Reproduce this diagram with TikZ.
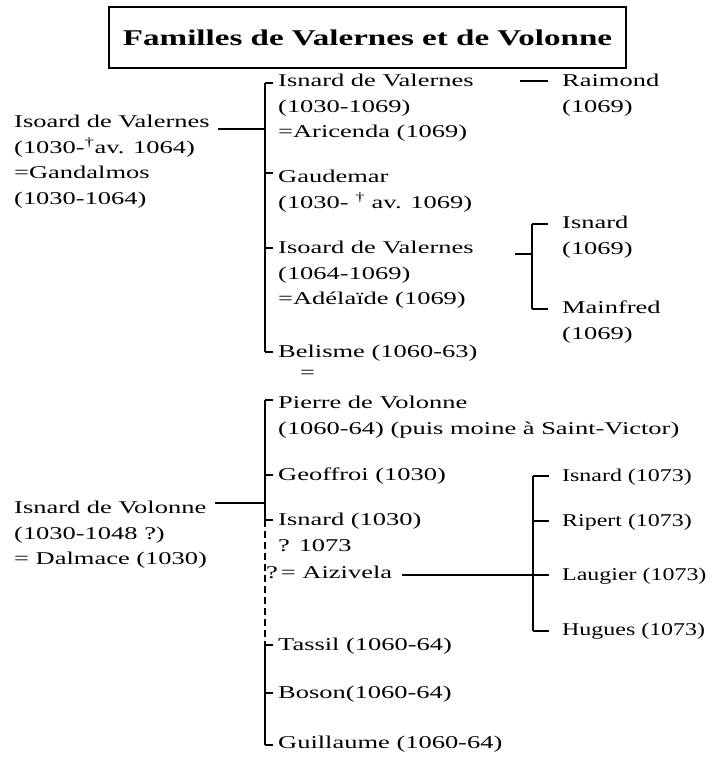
\documentclass[tikz,border=0pt]{standalone}
\usepackage{fontspec}
\setmainfont[FakeStretch=1.47]{Liberation Serif}
\newfontfamily\narrowserif[FakeStretch=1.33]{Liberation Serif}
\begin{document}
\begin{tikzpicture}[x=1pt,y=-1pt,
  lbl/.style={anchor=north west,inner sep=0pt,align=left,font=\fontsize{18}{25.5}\selectfont},
  nlbl/.style={lbl,font=\fontsize{18}{25.5}\selectfont\narrowserif},
  conn/.style={line width=1.9pt},
  dconn/.style={line width=1.9pt,dash pattern=on 7pt off 4pt}]
\useasboundingbox (0,0) rectangle (716,766);
\fill[white] (0,0) rectangle (716,766);
% title
\node[draw,line width=2pt,minimum width=517pt,minimum height=61pt,inner sep=0pt,
  font=\fontsize{22.5}{28}\selectfont\bfseries] (title) at (367.5,37.5) {Familles de Valernes et de Volonne};
% upper family
\node[lbl] (isoardA) at (14,115) {Isoard de Valernes\\(1030-\textsuperscript{†}av. 1064)\\=Gandalmos\\(1030-1064)};
\node[lbl] (isnardV) at (278,74) {Isnard de Valernes\\(1030-1069)\\=Aricenda (1069)};
\node[lbl] (gaudemar) at (278,170) {Gaudemar\\(1030- \textsuperscript{†} av. 1069)};
\node[lbl] (isoardB) at (278,241) {Isoard de Valernes\\(1064-1069)\\=Adélaïde (1069)};
\node[lbl] (belisme) at (278,345) {Belisme (1060-63)};
\node[lbl] (eqB) at (300,370) {=};
\node[lbl] (raimond) at (562,74) {Raimond\\(1069)};
\node[lbl] (isnard69) at (562,216) {Isnard\\(1069)};
\node[lbl] (mainfred) at (562,301) {Mainfred\\(1069)};
% lower family
\node[lbl] (isnardVol) at (14,501) {Isnard de Volonne\\(1030-1048 ?)\\= Dalmace (1030)};
\node[lbl] (pierre) at (278,396) {Pierre de Volonne\\(1060-64) (puis moine à Saint-Victor)};
\node[lbl] (geoffroi) at (278,468) {Geoffroi (1030)};
\node[lbl] (isnard1030) at (278,513) {Isnard (1030)\\? 1073};
\node[lbl] (aizivela) at (266,566) {?\,= Aizivela};
\node[lbl] (tassil) at (278,638) {Tassil (1060-64)};
\node[lbl] (boson) at (278,686) {Boson(1060-64)};
\node[lbl] (guillaume) at (278,736) {Guillaume (1060-64)};
\node[nlbl] (isnard73) at (562,469) {Isnard (1073)};
\node[nlbl] (ripert) at (562,514) {Ripert (1073)};
\node[nlbl] (laugier) at (562,568) {Laugier (1073)};
\node[nlbl] (hugues) at (562,623) {Hugues (1073)};
% upper connectors
\coordinate (jU) at (265,129);
\coordinate (tIV) at (265,83);
\coordinate (tGa) at (265,173);
\coordinate (tIB) at (265,248);
\coordinate (tBe) at (265,352);
\draw[conn] ([xshift=8pt]isoardA.north east |- jU) -- (jU);
\draw[conn] (tIV) -- (tBe);
\foreach \n/\t in {isnardV/tIV, gaudemar/tGa, isoardB/tIB, belisme/tBe}
  \draw[conn] (\t) -- ([xshift=-5pt]\n.west |- \t);
\coordinate (tR) at (548,81);
\draw[conn] ([xshift=-14pt]raimond.west |- tR) -- ([xshift=-42pt]raimond.west |- tR);
\coordinate (sB) at (515,254);
\coordinate (jB) at (532,254);
\coordinate (tIs) at (532,224);
\coordinate (tMa) at (532,309);
\draw[conn] (sB) -- (jB);
\draw[conn] (tIs) -- (tMa);
\draw[conn] (tIs) -- ([xshift=-14pt]isnard69.west |- tIs);
\draw[conn] (tMa) -- ([xshift=-14pt]mainfred.west |- tMa);
% lower connectors
\coordinate (jL) at (265,503);
\coordinate (tPi) at (265,400);
\coordinate (tGe) at (265,475);
\coordinate (tIs30) at (265,520);
\coordinate (tTa) at (265,645);
\coordinate (tBo) at (265,693);
\coordinate (tGu) at (265,745);
\draw[conn] ([xshift=8pt]isnardVol.north east |- jL) -- (jL);
\draw[conn] (tPi) -- (tIs30);
\draw[dconn] (tIs30) -- (tTa);
\draw[conn] (tTa) -- (tGu);
\foreach \n/\t in {pierre/tPi, geoffroi/tGe, isnard1030/tIs30, tassil/tTa, boson/tBo, guillaume/tGu}
  \draw[conn] (\t) -- ([xshift=-5pt]\n.west |- \t);
\coordinate (tI73) at (533,476);
\coordinate (tRi) at (533,521);
\coordinate (tLa) at (533,575);
\coordinate (tHu) at (533,631);
\draw[conn] ([xshift=10pt]aizivela.east |- tLa) -- (tLa);
\draw[conn] (tI73) -- (tHu);
\foreach \n/\t in {isnard73/tI73, ripert/tRi, laugier/tLa, hugues/tHu}
  \draw[conn] (\t) -- ([xshift=-13pt]\n.west |- \t);
\end{tikzpicture}
\end{document}
